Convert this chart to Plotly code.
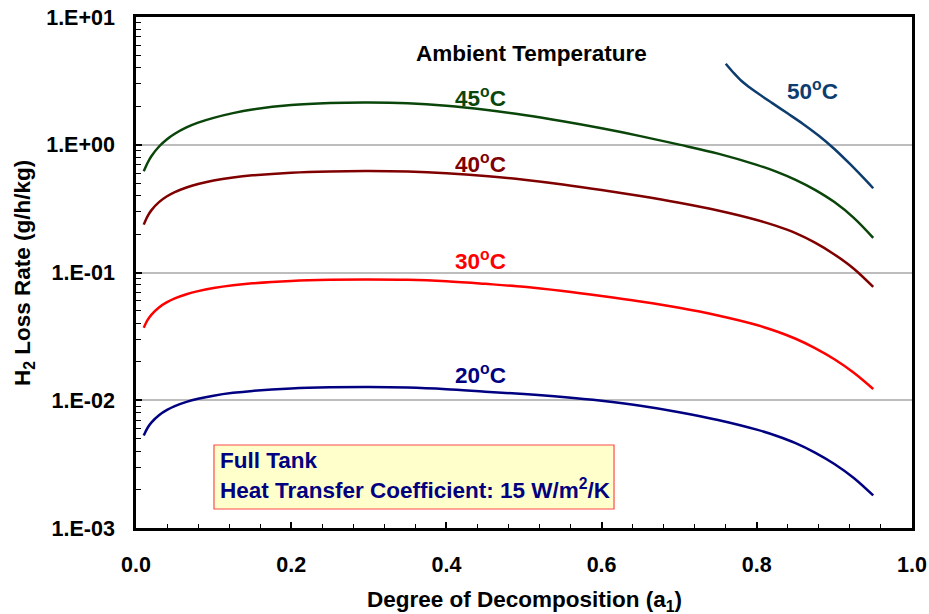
import numpy as np
import plotly.graph_objects as go

# Degree of decomposition (a1)
x_a1 = [0.01, 0.015, 0.02, 0.03, 0.04, 0.05, 0.065, 0.08, 0.10, 0.125, 0.15, 0.20, 0.25, 0.30, 0.35,
        0.40, 0.45, 0.50, 0.55, 0.60, 0.65, 0.70, 0.75, 0.80, 0.825, 0.85, 0.875, 0.90, 0.925, 0.95]

# H2 loss rate (g/h/kg) at each ambient temperature
y_45 = [0.6202, 0.7229, 0.8157, 0.9734, 1.1062, 1.2193, 1.3659, 1.4893, 1.6238, 1.7675, 1.886, 2.0453, 2.1204, 2.1396, 2.1089,
        2.0160, 1.8758, 1.7064, 1.5246, 1.3440, 1.1687, 1.0027, 0.8525, 0.6961, 0.6163, 0.5312, 0.4436, 0.3557, 0.2678, 0.1867]
y_40 = [0.2369, 0.2766, 0.3079, 0.3570, 0.3948, 0.4256, 0.4631, 0.4929, 0.5245, 0.5544, 0.5766, 0.6050, 0.6187, 0.6225, 0.6169,
        0.5994, 0.5704, 0.5317, 0.4880, 0.4420, 0.3967, 0.3513, 0.3054, 0.2574, 0.2315, 0.20315, 0.1712, 0.1385, 0.1071, 0.07711]
y_30 = [0.03701, 0.04252, 0.04682, 0.05348, 0.05857, 0.06266, 0.06761, 0.07152, 0.07563, 0.0795, 0.08235, 0.08598, 0.08775, 0.08823, 0.0876,
        0.08525, 0.08149, 0.07729, 0.07158, 0.06541, 0.05924, 0.05292, 0.04603, 0.03878, 0.03468, 0.0303, 0.02562, 0.02094, 0.01642, 0.01226]
y_20 = [0.005303, 0.006092, 0.006714, 0.007672, 0.008404, 0.008995, 0.009707, 0.010272, 0.010864, 0.011425, 0.011837, 0.012363, 0.012615, 0.012686, 0.012572,
        0.012215, 0.011676, 0.011182, 0.010594, 0.009892, 0.009056, 0.008069, 0.007011, 0.005887, 0.005274, 0.004623, 0.003896, 0.003172, 0.002465, 0.001798]

x_50 = [0.76, 0.77, 0.78, 0.79, 0.80, 0.82, 0.84, 0.86, 0.88, 0.90, 0.92, 0.94, 0.95]
y_50 = [4.306, 3.661, 3.170, 2.834, 2.562, 2.1166, 1.7548, 1.4497, 1.1762, 0.9271, 0.7075, 0.5302, 0.4565]

y_tick_vals = [0.001, 0.01, 0.1, 1, 10]
y_tick_text = ["1.E-03", "1.E-02", "1.E-01", "1.E+00", "1.E+01"]
x_tick_vals = [0.0, 0.2, 0.4, 0.6, 0.8, 1.0]
x_tick_text = ["0.0", "0.2", "0.4", "0.6", "0.8", "1.0"]

FONT = "Liberation Sans, Arial, sans-serif"
TXT = 22.5
TICK = 21.5

series = [
    ("20°C", x_a1, y_20, "#000080"),
    ("30°C", x_a1, y_30, "#FF0000"),
    ("40°C", x_a1, y_40, "#800000"),
    ("45°C", x_a1, y_45, "#0A450A"),
    ("50°C", x_50, y_50, "#0D3D6E"),
]

fig = go.Figure()
for name, xs, ys, col in series:
    fig.add_trace(go.Scatter(
        x=xs, y=ys, mode="lines", name=name,
        line=dict(color=col, width=2.5, shape="spline", smoothing=1.0),
        showlegend=False,
    ))

# curve labels (x, y in data units)
labels = [
    ("20<sup>o</sup>C", 0.444, 0.0161, "#000080"),
    ("30<sup>o</sup>C", 0.444, 0.126, "#FF0000"),
    ("40<sup>o</sup>C", 0.444, 0.718, "#800000"),
    ("45<sup>o</sup>C", 0.444, 2.37, "#0A450A"),
    ("50<sup>o</sup>C", 0.872, 2.67, "#0D3D6E"),
]
for txt, lx, ly, col in labels:
    fig.add_annotation(x=lx, y=np.log10(ly), text=txt, showarrow=False,
                       xanchor="center", yanchor="middle",
                       font=dict(family=FONT, size=TXT, color=col, weight="bold"))

fig.add_annotation(x=0.510, y=np.log10(5.2), text="Ambient Temperature", showarrow=False,
                   xanchor="center", yanchor="middle",
                   font=dict(family=FONT, size=TXT, color="black", weight="bold"))

# condition box
fig.add_shape(type="rect", xref="paper", yref="paper",
              x0=0.1005, x1=0.616, y0=0.0372, y1=0.1624,
              fillcolor="#FFFFCC", line=dict(color="#FF4A4A", width=1.2), layer="above")
fig.add_annotation(xref="paper", yref="paper", x=0.106, y=0.1330, text="Full Tank",
                   showarrow=False, xanchor="left", yanchor="middle",
                   font=dict(family=FONT, size=TXT, color="#000080", weight="bold"))
fig.add_annotation(xref="paper", yref="paper", x=0.106, y=0.0760,
                   text="Heat Transfer Coefficient: 15 W/m<sup>2</sup>/K",
                   showarrow=False, xanchor="left", yanchor="middle",
                   font=dict(family=FONT, size=TXT, color="#000080", weight="bold"))

# axis titles
fig.add_annotation(xref="paper", yref="paper", x=0.5005, y=-0.143,
                   text="Degree of Decomposition (a<sub>1</sub>)", showarrow=False,
                   xanchor="center", yanchor="middle",
                   font=dict(family=FONT, size=TXT, color="black", weight="bold"))
fig.add_annotation(xref="paper", yref="paper", x=-0.145, y=0.5,
                   text="H<sub>2</sub> Loss Rate (g/h/kg)", showarrow=False, textangle=-90,
                   xanchor="center", yanchor="middle",
                   font=dict(family=FONT, size=TXT, color="black", weight="bold"))

y_minor = [m * 10.0 ** e for e in range(-3, 1) for m in range(2, 10)]

fig.update_xaxes(
    range=[0, 1], tickvals=x_tick_vals, ticktext=x_tick_text,
    ticks="inside", ticklen=6, tickwidth=1.5, tickcolor="black",
    minor=dict(dtick=0.04, tick0=0, ticks="inside", ticklen=4, tickwidth=1.2, tickcolor="black", showgrid=False),
    showline=True, linecolor="black", linewidth=2.5, mirror=True,
    showgrid=False, zeroline=False, ticklabelstandoff=15, automargin=False,
    ticklabeloverflow="allow",
    tickfont=dict(family=FONT, size=TICK, color="black", weight="bold"),
)
fig.update_yaxes(
    type="log", range=[-3, 1], tickvals=y_tick_vals, ticktext=y_tick_text,
    ticks="inside", ticklen=6, tickwidth=1.5, tickcolor="black",
    minor=dict(tickvals=y_minor, ticks="inside", ticklen=5, tickwidth=1.2, tickcolor="black", showgrid=False),
    showline=True, linecolor="black", linewidth=2.5, mirror=True,
    showgrid=True, gridcolor="#BDBDBD", gridwidth=1.5, zeroline=False, ticklabelstandoff=14,
    automargin=False, ticklabeloverflow="allow",
    tickfont=dict(family=FONT, size=TICK, color="black", weight="bold"),
)

fig.update_layout(
    width=929, height=614,
    margin=dict(l=136, r=17, t=17, b=86),
    paper_bgcolor="white", plot_bgcolor="white",
    font=dict(family=FONT, color="black"),
)

fig.write_html("out.html")
